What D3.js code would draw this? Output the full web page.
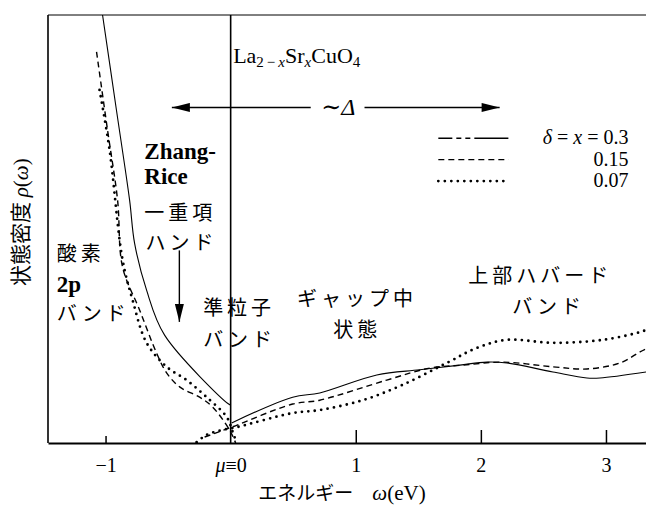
<!DOCTYPE html>
<html>
<head>
<meta charset="utf-8">
<script src="https://cdn.jsdelivr.net/npm/d3@7/dist/d3.min.js"></script>
<style>
  html, body { margin: 0; padding: 0; background: #fff; }
  svg { display: block; }
</style>
</head>
<body>
<svg id="chart" width="646" height="505"></svg>
<script>
// Energy axis ticks (eV)
const tickValues = [-1, 0, 1, 2, 3];
const tickLabels = ["\u22121", "\u03bc\u22610", "1", "2", "3"];

// Density of states rho(omega), arbitrary units, [omega (eV), rho]
// delta = x = 0.3
const dos030Left = [[-1.024, 100], [-0.913, 77.8], [-0.808, 56.8], [-0.768, 46.7],
  [-0.672, 35.7], [-0.528, 25.2], [-0.016, 9.1], [0.0, 8.9]];
const dos030Right = [[0.008, 4.7], [0.496, 10.7], [0.712, 11.7], [1.168, 15.9],
  [1.512, 17.1], [1.832, 18.2], [2.048, 18.9], [2.208, 18.7], [2.576, 16.6],
  [2.848, 15.2], [2.952, 15.2], [3.32, 16.6]];
// delta = x = 0.15
const dos015Left = [[-1.072, 91.4], [-0.984, 73.1], [-0.904, 56.8], [-0.864, 41.1],
  [-0.728, 31.1], [-0.592, 21.0], [-0.512, 16.4], [-0.408, 13.1], [-0.248, 10.7],
  [-0.144, 8.4], [-0.008, 3.0], [0.04, 0]];
const dos015Right = [[-0.208, 1.4], [0.008, 3.7], [0.496, 9.1], [0.712, 10.0],
  [1.248, 14.7], [1.592, 17.5], [1.856, 18.2], [2.176, 18.9], [2.576, 17.8],
  [2.848, 17.3], [3.112, 18.7], [3.272, 21.3], [3.32, 22.0]];
// delta = x = 0.07
const dos007Left = [[-1.048, 82.5], [-0.968, 68.5], [-0.864, 42.8], [-0.784, 33.4],
  [-0.672, 23.4], [-0.512, 17.8], [-0.352, 14.7], [-0.192, 10.7], [-0.032, 6.1],
  [0.016, 2.6], [0.048, 0]];
const dos007Right = [[-0.272, 0.2], [-0.192, 1.9], [-0.072, 3.0], [0.048, 3.7],
  [0.496, 7.0], [0.712, 7.7], [1.056, 10.0], [1.376, 13.6], [1.728, 18.7],
  [1.968, 22.2], [2.208, 24.1], [2.576, 23.4], [2.976, 24.1], [3.272, 25.9], [3.32, 26.4]];

const legendLabels = ["\u03b4 = x = 0.3", "0.15", "0.07"];

// Charge-transfer gap span (eV)
const gapSpan = [-0.47, 2.15];

const SERIF = '"Liberation Serif", "Times New Roman", "DejaVu Serif", serif';
const CJK = '"Noto Sans CJK JP", sans-serif';

const svg = d3.select("#chart");
const margin = { left: 48, right: 0, top: 15, bottom: 62 };
const W = 646, H = 505;

const x = d3.scaleLinear().domain([-1.46, 3.32]).range([margin.left, W - margin.right]);
const y = d3.scaleLinear().domain([0, 100]).range([H - margin.bottom, margin.top]);

// frame
svg.append("line").attr("x1", x(-1.46)).attr("x2", W).attr("y1", y(100)).attr("y2", y(100))
  .attr("stroke", "#000").attr("stroke-width", 1);
svg.append("line").attr("x1", x(-1.46)).attr("x2", x(-1.46)).attr("y1", y(100)).attr("y2", y(0))
  .attr("stroke", "#000").attr("stroke-width", 1.6);
// chemical potential line
svg.append("line").attr("x1", x(0)).attr("x2", x(0)).attr("y1", y(100)).attr("y2", y(0))
  .attr("stroke", "#000").attr("stroke-width", 1.6);

// x axis
const xAxis = d3.axisBottom(x).tickValues(tickValues)
  .tickFormat((d, i) => tickLabels[i]).tickSizeInner(-13).tickSizeOuter(0).tickPadding(15);
const gx = svg.append("g").attr("transform", `translate(0,${y(0)})`).call(xAxis);
gx.attr("font-family", null);
gx.select(".domain").attr("stroke-width", 2.2);
gx.selectAll(".tick line").attr("stroke-width", 1.5)
  .attr("y2", d => d === -1 ? -7 : (d === 0 ? 0 : -13));
gx.selectAll(".tick text").style("font-family", SERIF).style("font-size", "20px").attr("fill", "#000");
gx.selectAll(".tick text").filter(d => d === 0).text(null).each(function () {
  const t = d3.select(this);
  t.append("tspan").style("font-style", "italic").text("\u03bc");
  t.append("tspan").text("\u22610");
});

// x title
svg.append("text").attr("x", x(0.89)).attr("y", 500).attr("text-anchor", "middle")
  .style("font-size", "19px").style("font-family", CJK)
  .call(t => {
    t.append("tspan").text("\u30a8\u30cd\u30eb\u30ae\u30fc\u3000");
    t.append("tspan").style("font-family", SERIF).style("font-size", "21px").style("font-style", "italic").text("\u03c9");
    t.append("tspan").style("font-family", SERIF).style("font-size", "21px").text("(eV)");
  });

// y title
svg.append("text").attr("transform", `translate(28,${y(51.6)}) rotate(-90)`)
  .attr("text-anchor", "middle").style("font-size", "21px").style("font-family", CJK)
  .call(t => {
    t.append("tspan").text("\u72b6\u614b\u5bc6\u5ea6 ");
    t.append("tspan").style("font-family", SERIF).style("font-style", "italic").text("\u03c1");
    t.append("tspan").style("font-family", SERIF).text("(");
    t.append("tspan").style("font-family", SERIF).style("font-style", "italic").text("\u03c9");
    t.append("tspan").style("font-family", SERIF).text(")");
  });

// curves
svg.append("clipPath").attr("id", "plotclip").append("rect")
  .attr("x", x(-1.46)).attr("y", y(100)).attr("width", W - x(-1.46)).attr("height", y(0) - y(100));
const line = d3.line().x(d => x(d[0])).y(d => y(d[1])).curve(d3.curveCatmullRom.alpha(0.5));
const styles = {
  s030: { dash: null, width: 1.1, cap: "butt" },
  s015: { dash: "6,4", width: 1.4, cap: "butt" },
  s007: { dash: "0,6.5", width: 2.8, cap: "round" }
};
const curves = svg.append("g").attr("clip-path", "url(#plotclip)");
[[dos030Left, styles.s030], [dos030Right, styles.s030],
 [dos015Left, styles.s015], [dos015Right, styles.s015],
 [dos007Left, styles.s007], [dos007Right, styles.s007]].forEach(([data, st]) => {
  curves.append("path").datum(data).attr("d", line).attr("fill", "none")
    .attr("stroke", "#000").attr("stroke-width", st.width).attr("stroke-linecap", st.cap)
    .attr("stroke-dasharray", st.dash);
});

// legend
const legX0 = x(1.66), legX1 = x(2.22), legTextX = x(3.18);
const legendStyles = [
  { dash: "14,4,5,4,5,4,40", width: 1.3, cap: "butt" },
  styles.s015, styles.s007
];
legendLabels.forEach((lab, i) => {
  const ly = y(71.2 - i * 5.0);
  svg.append("line").attr("x1", legX0).attr("x2", legX1).attr("y1", ly).attr("y2", ly)
    .attr("stroke", "#000").attr("stroke-width", legendStyles[i].width)
    .attr("stroke-linecap", legendStyles[i].cap).attr("stroke-dasharray", legendStyles[i].dash);
  const t = svg.append("text").attr("x", legTextX).attr("y", ly + 6).attr("text-anchor", "end")
    .style("font-size", "20px").style("font-family", SERIF);
  if (i === 0) {
    t.append("tspan").style("font-style", "italic").text("\u03b4");
    t.append("tspan").text(" = ");
    t.append("tspan").style("font-style", "italic").text("x");
    t.append("tspan").text(" = 0.3");
  } else {
    t.text(lab);
  }
});

// compound label
svg.append("text").attr("x", x(0.02)).attr("y", y(88.8)).style("font-size", "22px")
  .style("font-family", SERIF)
  .call(t => {
    t.append("tspan").text("La");
    t.append("tspan").style("font-size", "15px").attr("dy", 4).text("2\u2009\u2212\u2009");
    t.append("tspan").style("font-size", "15px").style("font-style", "italic").text("x");
    t.append("tspan").attr("dy", -4).text("Sr");
    t.append("tspan").style("font-size", "15px").attr("dy", 4).style("font-style", "italic").text("x");
    t.append("tspan").attr("dy", -4).text("CuO");
    t.append("tspan").style("font-size", "15px").attr("dy", 4).text("4");
  });

// arrowheads
const defs = svg.append("defs");
defs.append("marker").attr("id", "head").attr("viewBox", "0 0 20 10").attr("refX", 20).attr("refY", 5)
  .attr("markerWidth", 20).attr("markerHeight", 9).attr("markerUnits", "userSpaceOnUse")
  .attr("orient", "auto-start-reverse")
  .append("path").attr("d", "M0,0 L20,5 L0,10 Z").attr("fill", "#000");

// gap arrow ~Delta
const ay = y(78.4);
svg.append("line").attr("x1", x(gapSpan[0])).attr("x2", x(0.64)).attr("y1", ay).attr("y2", ay)
  .attr("stroke", "#000").attr("stroke-width", 1.4).attr("marker-start", "url(#head)");
svg.append("line").attr("x1", x(1.07)).attr("x2", x(gapSpan[1])).attr("y1", ay).attr("y2", ay)
  .attr("stroke", "#000").attr("stroke-width", 1.4).attr("marker-end", "url(#head)");
svg.append("text").attr("x", x(0.86)).attr("y", ay + 8).attr("text-anchor", "middle")
  .style("font-size", "24px").style("font-family", SERIF)
  .call(t => {
    t.append("tspan").text("\u223c");
    t.append("tspan").style("font-style", "italic").text("\u0394");
  });

// Zhang-Rice singlet arrow
svg.append("line").attr("x1", x(-0.41)).attr("x2", x(-0.41)).attr("y1", y(45.0)).attr("y2", y(28.3))
  .attr("stroke", "#000").attr("stroke-width", 1.4).attr("marker-end", "url(#head)");

// band labels
const bandLabels = [
  { t: "Zhang-", x: -0.69, y: 66.4, rm: true },
  { t: "Rice", x: -0.69, y: 60.5, rm: true },
  { t: "\u4e00\u91cd\u9805", x: -0.69, y: 52.2 },
  { t: "\u30cf\u30f3\u30c9", x: -0.68, y: 45.0 },
  { t: "\u9178\u7d20", x: -1.39, y: 42.6 },
  { t: "2p", x: -1.39, y: 35.3, rm: true },
  { t: "\u30d0\u30f3\u30c9", x: -1.39, y: 28.5 },
  { t: "\u6e96\u7c92\u5b50", x: -0.22, y: 29.9 },
  { t: "\u30d0\u30f3\u30c9", x: -0.22, y: 22.4 },
  { t: "\u30ae\u30e3\u30c3\u30d7\u4e2d", x: 0.53, y: 32.0 },
  { t: "\u72b6\u614b", x: 0.82, y: 24.8 },
  { t: "\u4e0a\u90e8\u30cf\u30d0\u30fc\u30c9", x: 1.9, y: 37.3 },
  { t: "\u30d0\u30f3\u30c9", x: 2.25, y: 30.1 }
];
bandLabels.forEach(d => {
  const t = svg.append("text").attr("x", x(d.x)).attr("y", y(d.y))
    .style("font-size", d.rm ? "23px" : "20px")
    .style("font-weight", d.rm ? "bold" : "normal")
    .style("font-family", d.rm ? SERIF : CJK)
    .text(d.t);
  if (!d.rm) t.style("letter-spacing", "4px");
});
</script>
</body>
</html>
